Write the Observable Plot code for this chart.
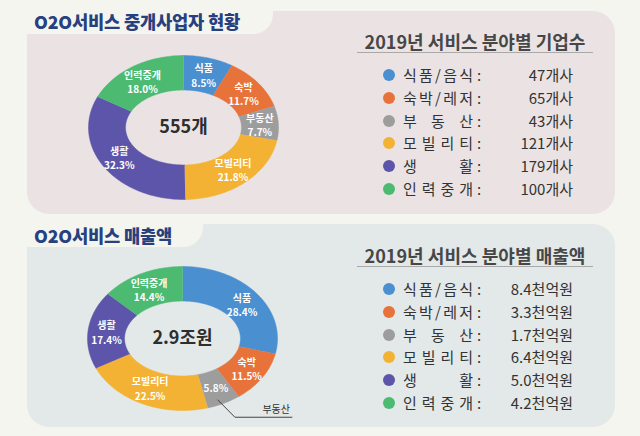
<!DOCTYPE html>
<html><head><meta charset="utf-8">
<script src="https://cdn.jsdelivr.net/npm/d3@7"></script>
<script src="https://cdn.jsdelivr.net/npm/@observablehq/plot@0.6"></script>
<style>
  html,body{margin:0;padding:0;background:#f5f5f0;}
  #root{position:relative;width:640px;height:436px;overflow:hidden;background:#f5f5f0;font-family:"Noto Sans CJK KR","Noto Sans",sans-serif;}
  .panel{position:absolute;left:27px;width:588px;border-radius:22px;}
  .tab{position:absolute;left:0;background:#f5f5f0;border-bottom-right-radius:20px;}
  .title{position:absolute;left:34px;color:#27407e;font-weight:900;font-size:16px;letter-spacing:-0.2px;line-height:22px;white-space:nowrap;}
  .lhead{position:absolute;left:357px;width:236px;text-align:center;color:#474747;font-weight:bold;font-size:15px;line-height:20px;white-space:nowrap;}
  .lrule{position:absolute;left:357px;width:236px;height:1px;background:#a9a9a9;}
  .row{position:absolute;left:383px;height:20px;width:190px;color:#333;font-size:15px;line-height:20px;}
  .dot{position:absolute;left:0;top:4px;width:12px;height:12px;border-radius:50%;}
  .name{position:absolute;left:20px;width:70px;display:flex;justify-content:space-between;}
  .colon{position:absolute;left:94px;}
  .val{position:absolute;right:0;text-align:right;letter-spacing:0px;}
  .plotbox{position:absolute;}
</style></head>
<body><div id="root"></div>
<script>
// ---- data ----
const sliceNames = ["식품","숙박","부동산","모빌리티","생활","인력중개"];
const legendNames = ["식품/음식","숙박/레저","부동산","모빌리티","생활","인력중개"];
const companyCounts = [47,65,43,121,179,100];
const companyValueLabels = ["47개사","65개사","43개사","121개사","179개사","100개사"];
const companyPct = [8.5,11.7,7.7,21.8,32.3,18.0];
const salesValues = [8.4,3.3,1.7,6.4,5.0,4.2];
const salesValueLabels = ["8.4천억원","3.3천억원","1.7천억원","6.4천억원","5.0천억원","4.2천억원"];
const salesPct = [28.4,11.5,5.8,22.5,17.4,14.4];
const sliceColors = ["#4a8fcf","#e8733a","#9d9d9d","#f3b233","#5c55a9","#4dba72"];
const titles = ["O2O서비스 중개사업자 현황","O2O서비스 매출액"];
const legendHeads = ["2019년 서비스 분야별 기업수","2019년 서비스 분야별 매출액"];
const centerTexts = ["555개","2.9조원"];

const root = document.getElementById("root");
function el(cls, style, html){const d=document.createElement("div");d.className=cls;Object.assign(d.style,style);if(html!==undefined)d.innerHTML=html;root.appendChild(d);return d;}
function fit(elem, target){
  const w = elem.getBoundingClientRect().width;
  const fs = parseFloat(getComputedStyle(elem).fontSize);
  const nf = fs*target/w; elem.style.fontSize = nf+"px"; return nf;
}

// panels
el("panel",{top:"11px",height:"203px",background:"#ebe3e3"});
el("tab",{top:"0px",width:"273px",height:"34px"});
const t1 = el("title",{top:"11px"},titles[0]);
el("panel",{top:"224px",height:"203px",background:"#e3e8e8"});
el("tab",{top:"214px",width:"203px",height:"33px"});
const t2 = el("title",{top:"225px"},titles[1]);
const tfs = fit(t1, 206);
t2.style.fontSize = tfs+"px";

// legends
function legend(top, head, values){
  const h = el("lhead",{top:(top-11)+"px"},"<span>"+head+"</span>");
  fit(h.firstChild, 221);
  el("lrule",{top:(top+10)+"px"});
  legendNames.forEach((n,i)=>{
    const r = el("row",{top:(top+23+i*22.8)+"px"});
    const dot=document.createElement("div");dot.className="dot";dot.style.background=sliceColors[i];r.appendChild(dot);
    const nm=document.createElement("div");nm.className="name";
    for(const ch of n){const s=document.createElement("span");s.textContent=ch;nm.appendChild(s);}
    r.appendChild(nm);
    const c=document.createElement("div");c.className="colon";c.textContent=":";r.appendChild(c);
    const v=document.createElement("div");v.className="val";v.textContent=values[i];r.appendChild(v);
  });
}
legend(42, legendHeads[0], companyValueLabels);
legend(256, legendHeads[1], salesValueLabels);

// donuts
const IX = 0.61, IY = 0.52;
function slices(pcts){
  const total = d3.sum(pcts);
  let acc = 0;
  return pcts.map((p,i)=>{
    const a0 = acc/total*2*Math.PI; acc += p; const a1 = acc/total*2*Math.PI;
    const n = Math.max(4, Math.ceil((a1-a0)/0.02));
    const pts = [];
    for(let k=0;k<=n;k++){const a=a0+(a1-a0)*k/n;pts.push({x:Math.sin(a),y:Math.cos(a)});}
    for(let k=n;k>=0;k--){const a=a0+(a1-a0)*k/n;pts.push({x:Math.sin(a)*IX,y:Math.cos(a)*IY});}
    const m=(a0+a1)/2;
    return {i, pts, mid:m, name:sliceNames[i], pct:p.toFixed(1)+"%", color:sliceColors[i]};
  });
}
function donut(pcts, center, cx, cy, calloutIndex){
  const W=230,H=190;
  const sl = slices(pcts);
  const rl = (1+IX)/2, rly=(1+IY)/2;
  const labels = sl.map(s=>({x:Math.sin(s.mid)*rl, y:Math.cos(s.mid)*rly,
      text: s.i===calloutIndex ? s.pct : s.name+"\n"+s.pct}));
  const marks = sl.map(s=>Plot.line(s.pts,{x:"x",y:"y",fill:s.color,stroke:s.color,strokeWidth:0.5,curve:"linear"}));
  marks.push(Plot.text(labels,{x:"x",y:"y",text:"text",fill:"white",fontSize:10,fontWeight:"bold",lineHeight:1.45}));
  marks.push(Plot.text([{x:0,y:0,t:center}],{x:"x",y:"y",text:"t",fill:"#2e2e2e",fontSize:18,fontWeight:"bold"}));
  if(calloutIndex!==undefined){
    const s = sl[calloutIndex];
    const sx=Math.sin(s.mid)*rl+0.02, sy=Math.cos(s.mid)*rly-0.17;
    const ex=sx+0.18, ey=sy-0.24;
    const path=[{x:sx,y:sy},{x:ex,y:ey},{x:ex+0.6,y:ey}];
    marks.push(Plot.line(path,{x:"x",y:"y",stroke:"#444",strokeWidth:1}));
    marks.push(Plot.text([{x:ex+0.58,y:ey+0.1,t:s.name}],{x:"x",y:"y",text:"t",textAnchor:"end",fill:"#333",fontSize:10}));
  }
  const p = Plot.plot({width:W,height:H,margin:0,
    x:{domain:[-1,1],range:[W/2-95,W/2+95],axis:null},
    y:{domain:[-1,1],range:[H/2+72,H/2-72],axis:null},
    style:{background:"transparent",overflow:"visible",fontFamily:"'Noto Sans CJK KR', sans-serif"},
    marks});
  const box = el("plotbox",{left:(cx-W/2)+"px",top:(cy-H/2)+"px"});
  box.appendChild(p);
}
donut(companyPct, centerTexts[0], 183, 127);
donut(salesPct, centerTexts[1], 182, 338, 2);
</script></body></html>
